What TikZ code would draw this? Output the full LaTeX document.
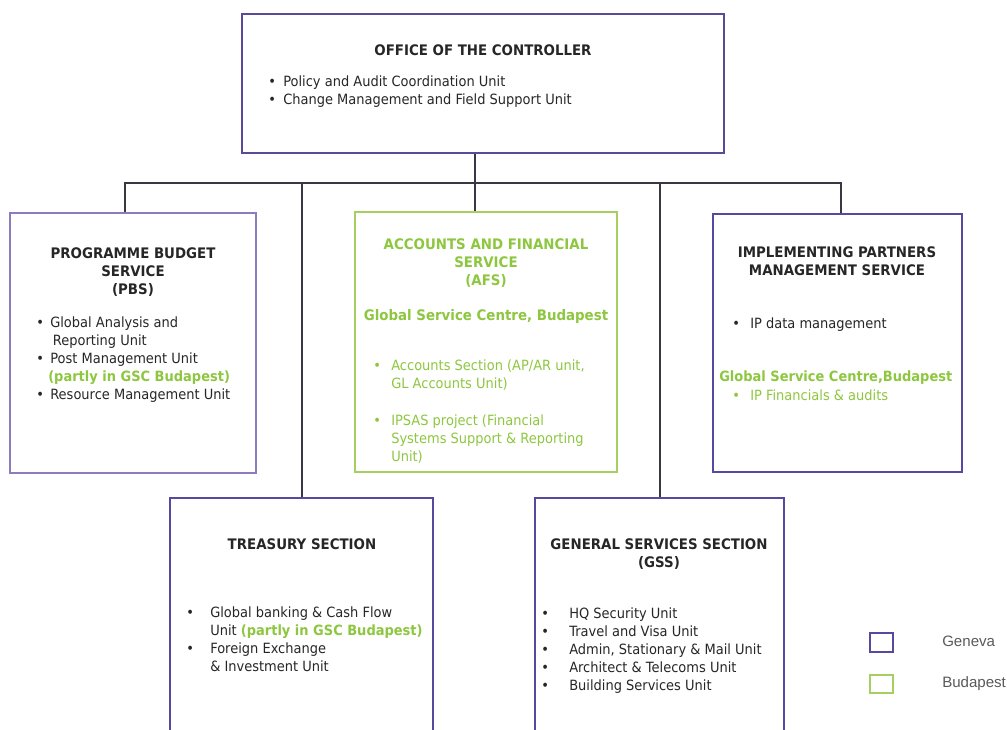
\documentclass[tikz,border=0pt]{standalone}
\usepackage{fontspec}
\setmainfont{DejaVu Sans}[FakeStretch=0.92]
\newfontfamily\legendfont{Liberation Sans}
\usetikzlibrary{fit}
\definecolor{ctrlcol}{HTML}{5B4A9A}
\definecolor{gencol}{HTML}{5549A0}
\definecolor{pbscol}{HTML}{8C7BBE}
\definecolor{budcol}{HTML}{A6CF62}
\definecolor{gsccol}{HTML}{8DC63F}
\definecolor{linkcol}{HTML}{3B3644}
\definecolor{txtcol}{HTML}{262626}
\definecolor{legcol}{HTML}{595959}
\newcommand{\boxfont}{\fontsize{10.6}{13.5}\selectfont}
\newcommand{\ttlfont}{\fontsize{10.9}{13.5}\selectfont\bfseries}
\newcommand{\bul}[1]{\makebox[#1pt][c]{\textbullet}}
\newcommand{\gsc}[1]{\textcolor{gsccol}{\bfseries #1}}

\begin{document}
\begin{tikzpicture}[x=0.75pt, y=-0.75pt,
  genbox/.style={draw=gencol, line width=1.5pt, inner sep=0pt},
  budbox/.style={draw=budcol, line width=1.5pt, inner sep=0pt},
  link/.style={draw=linkcol, line width=1.3pt},
  ttl/.style={font=\ttlfont, text=txtcol, align=center, inner sep=0pt, anchor=base},
  lst/.style={font=\boxfont, text=txtcol, align=left, inner sep=0pt, anchor=base west},
  legtxt/.style={font=\legendfont\fontsize{11.3}{13}\selectfont, text=legcol, inner sep=0pt, anchor=base west}]
\useasboundingbox (0,0) rectangle (1007,729);
\clip (0,0) rectangle (1007,729);

% boxes
\node[genbox, draw=ctrlcol, fit={(242,14) (724,153)}] (ctrl) {};
\node[genbox, draw=pbscol, fit={(10,213) (256,473)}] (pbs) {};
\node[budbox, fit={(355,212) (617,472)}] (afs) {};
\node[genbox, fit={(713,214) (962,472)}] (ipm) {};
\node[genbox, fit={(170,498) (433,745)}] (trs) {};
\node[genbox, fit={(535,498) (784,745)}] (gss) {};

% connectors
\coordinate (bus) at (475,183);
\coordinate (dP) at (125,183);
\coordinate (dT) at (302,183);
\coordinate (dG) at (660,183);
\coordinate (dI) at (841,183);
\draw[link] (ctrl.south -| bus) -- (afs.north -| bus);
\draw[link] (dP |- pbs.north) -- (dP) -- (dI) -- (dI |- ipm.north);
\draw[link] (dT) -- (dT |- trs.north);
\draw[link] (dG) -- (dG |- gss.north);

% office of the controller (multi-line nodes sit on their last line)
\node[ttl] (ctrlttl) at (483,55) {OFFICE OF THE CONTROLLER};
\node[lst] (ctrllist) at (261,104) {\bul{16.5}Policy and Audit Coordination Unit\\
  \bul{16.5}Change Management and Field Support Unit};

% programme budget
\node[ttl] (pbsttl) at (133,294) {PROGRAMME BUDGET\\SERVICE\\(PBS)};
\node[lst] (pbslist) at (30,399) {\bul{15}Global Analysis and\\
  \hspace*{17pt}Reporting Unit\\
  \bul{15}Post Management Unit\\
  \hspace*{13.5pt}\gsc{(partly in GSC Budapest)}\\
  \bul{15}Resource Management Unit};

% accounts and financial
\node[ttl, text=gsccol] (afsttl) at (486,285) {ACCOUNTS AND FINANCIAL\\SERVICE\\(AFS)};
\node[ttl, text=gsccol] (afsgsc) at (486,320) {Global Service Centre, Budapest};
\node[lst, text=gsccol] (afslist) at (363,461) {\bul{21}Accounts Section (AP/AR unit,\\
  \hspace*{21pt}GL Accounts Unit)\\[14pt]
  \bul{21}IPSAS project (Financial\\
  \hspace*{21pt}Systems Support \& Reporting\\
  \hspace*{21pt}Unit)};

% implementing partners
\node[ttl] (ipmttl) at (837,275) {IMPLEMENTING PARTNERS\\MANAGEMENT SERVICE};
\node[lst] (ipmlist) at (722,328) {\bul{21}IP data management};
\node[lst, font=\boxfont\bfseries, text=gsccol] (ipmgsc) at (719,381) {Global Service Centre,Budapest};
\node[lst, text=gsccol] (ipmfin) at (722,400) {\bul{21}IP Financials \& audits};

% treasury
\node[ttl] (trsttl) at (302,549) {TREASURY SECTION};
\node[lst] (trslist) at (170,671) {\bul{30}Global banking \& Cash Flow\\
  \hspace*{30pt}Unit \gsc{(partly in GSC Budapest)}\\
  \bul{30}Foreign Exchange\\
  \hspace*{30pt}\& Investment Unit};

% general services
\node[ttl] (gssttl) at (659,567) {GENERAL SERVICES SECTION\\(GSS)};
\node[lst] (gsslist) at (521,690) {\bul{36}HQ Security Unit\\
  \bul{36}Travel and Visa Unit\\
  \bul{36}Admin, Stationary \& Mail Unit\\
  \bul{36}Architect \& Telecoms Unit\\
  \bul{36}Building Services Unit};

% legend
\node[genbox, minimum width=17.25pt, minimum height=14.25pt] (keygen) at (881.5,642.5) {};
\node[budbox, minimum width=17.25pt, minimum height=13.5pt] (keybud) at (881.5,684) {};
\node[legtxt] (keygentxt) at (942,646) {Geneva};
\node[legtxt] (keybudtxt) at (942,687) {Budapest};
\end{tikzpicture}
\end{document}
